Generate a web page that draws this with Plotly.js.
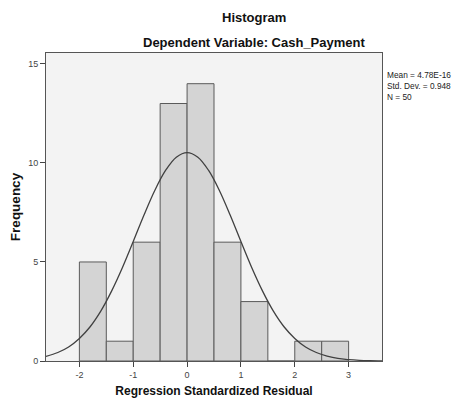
<!DOCTYPE html>
<html>
<head>
<meta charset="utf-8">
<script src="https://cdn.plot.ly/plotly-3.0.1.min.js"></script>
<style>html,body{margin:0;padding:0;background:#fff;}#chart{width:455px;height:398px;}</style>
</head>
<body>
<div id="chart"></div>
<script>
// Histogram bins (centers of 0.5-wide bins) and counts
var binCenters = [-1.75, -1.25, -0.75, -0.25, 0.25, 0.75, 1.25, 1.75, 2.25, 2.75];
var binCounts  = [5, 1, 6, 13, 14, 6, 3, 0, 1, 1];
var binWidth = 0.5;

// Normal curve
var curveX = [-2.62, -2.4, -2.2, -2.0, -1.8, -1.6, -1.4, -1.2, -1.0, -0.8, -0.6, -0.4, -0.2, 0,
              0.2, 0.4, 0.6, 0.8, 1.0, 1.2, 1.4, 1.6, 1.8, 2.0, 2.2, 2.4, 2.6, 2.8, 3.0, 3.2, 3.4, 3.62];
var curveY = [0.23, 0.43, 0.71, 1.14, 1.73, 2.53, 3.54, 4.72, 6.03, 7.37, 8.61, 9.62, 10.29, 10.52,
              10.29, 9.62, 8.61, 7.37, 6.03, 4.72, 3.54, 2.53, 1.73, 1.14, 0.71, 0.43, 0.25, 0.13, 0.07, 0.035, 0.017, 0.007];

var xTicks = [-2, -1, 0, 1, 2, 3];
var yTicks = [0, 5, 10, 15];

var titleText = "Histogram";
var subtitleText = "Dependent Variable: Cash_Payment";
var xTitle = "Regression Standardized Residual";
var yTitle = "Frequency";
var statsLines = ["Mean = 4.78E-16", "Std. Dev. = 0.948", "N = 50"];

var font = "Liberation Sans, Arial, sans-serif";

var traces = [
  {
    type: "bar",
    x: binCenters,
    y: binCounts,
    width: binWidth,
    marker: {color: "#d4d4d4", line: {color: "#5a5a5a", width: 1}},
    hoverinfo: "x+y"
  },
  {
    type: "scatter",
    mode: "lines",
    x: curveX,
    y: curveY,
    line: {color: "#404040", width: 1.3, shape: "spline"},
    hoverinfo: "skip"
  }
];

var layout = {
  width: 455, height: 398,
  margin: {l: 46, r: 73, t: 53, b: 37},
  paper_bgcolor: "#ffffff",
  plot_bgcolor: "#f3f3f3",
  showlegend: false,
  bargap: 0,
  font: {family: font, color: "#333"},
  xaxis: {
    range: [-2.62, 3.62],
    tickvals: xTicks,
    ticktext: xTicks.map(String),
    ticks: "outside", ticklen: 5, tickcolor: "#444", tickwidth: 1,
    tickfont: {size: 9, color: "#444", family: font},
    showgrid: false, zeroline: false,
    showline: true, linecolor: "#555", linewidth: 1, mirror: true,
    title: {text: xTitle, font: {size: 12, color: "#111", family: font, weight: "bold"}, standoff: 8}
  },
  yaxis: {
    range: [0, 15.55],
    tickvals: yTicks,
    ticktext: yTicks.map(String),
    ticks: "outside", ticklen: 5, tickcolor: "#444", tickwidth: 1,
    tickfont: {size: 9, color: "#444", family: font},
    showgrid: false, zeroline: false,
    showline: true, linecolor: "#555", linewidth: 1, mirror: true,
    title: {text: yTitle, font: {size: 13.5, color: "#111", family: font, weight: "bold"}, standoff: 4}
  },
  annotations: [
    {text: "<b>" + titleText + "</b>", xref: "paper", yref: "paper", x: 0.62, y: 1, yshift: 36,
     xanchor: "center", yanchor: "middle", showarrow: false, font: {size: 13, color: "#111", family: font}},
    {text: "<b>" + subtitleText + "</b>", xref: "paper", yref: "paper", x: 0.62, y: 1, yshift: 11,
     xanchor: "center", yanchor: "middle", showarrow: false, font: {size: 13, color: "#111", family: font}},
    {text: statsLines.join("<br>"), xref: "paper", yref: "paper", x: 1, xshift: 3, y: 1, yshift: -15,
     xanchor: "left", yanchor: "top", align: "left", showarrow: false,
     font: {size: 8.3, color: "#222", family: font}}
  ]
};

Plotly.newPlot("chart", traces, layout, {displayModeBar: false, staticPlot: true});
</script>
</body>
</html>
